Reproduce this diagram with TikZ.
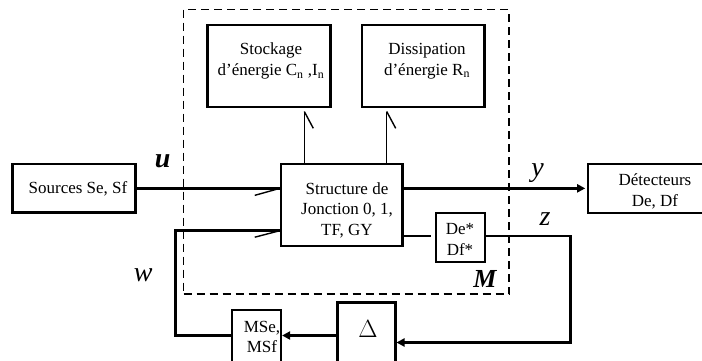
\documentclass[tikz,border=0pt]{standalone}
\usepackage{fontspec}
\setmainfont{Liberation Serif}
\usetikzlibrary{arrows.meta}
\begin{document}
\begin{tikzpicture}[x=1pt,y=-1pt,
  box/.style={draw,line width=2.5pt,inner sep=0pt},
  txt/.style={inner sep=0pt,align=center,font=\fontsize{17}{21}\selectfont},
  lbl/.style={inner sep=0pt,font=\fontsize{28}{28}\selectfont\itshape},
  conn/.style={line width=2.6pt},
  thinl/.style={line width=1pt},
  barb/.style={line width=1.4pt},
  tip/.style={-{Triangle[length=8pt,width=8pt]}}]
\useasboundingbox (0,0) rectangle (702,360);
% dashed model boundary
\node[draw,dashed,line width=1.2pt,dash pattern=on 8pt off 5pt,inner sep=0pt,minimum width=325.5pt,minimum height=284.7pt] (Mbox) at (346.25,151.65) {};
% boxes
\node[box,line width=2.7pt,minimum width=123pt,minimum height=82pt] (Stock) at (268.8,66) {};
\node[box,line width=2.7pt,minimum width=122.7pt,minimum height=82pt] (Diss) at (423.35,66) {};
\node[box,minimum width=123pt,minimum height=48.7pt] (Src) at (74.2,188.35) {};
\node[box,minimum width=121.3pt,minimum height=82pt] (Str) at (341.65,205) {};
\node[box,line width=2pt,minimum width=49pt,minimum height=49pt] (DD) at (460,237.2) {};
\node[box,line width=2.2pt,minimum width=116pt,minimum height=48.7pt] (Det) at (646.3,188.35) {};
\node[box,line width=2.4pt,minimum width=58pt,minimum height=60pt] (Del) at (366.3,332.3) {};
\node[box,line width=2.2pt,minimum width=49.3pt,minimum height=52pt] (MS) at (256.35,336) {};
% texts
\node[txt] (tStock) at (271,61) {Stockage\\d’énergie C\textsubscript{n} ,I\textsubscript{n}};
\node[txt] (tDiss) at (427,61) {Dissipation\\d’énergie R\textsubscript{n}};
\node[txt] (tSrc) at (78,189) {Sources Se, Sf};
\node[txt,font=\fontsize{17}{20.5}\selectfont] (tStr) at (347,210) {Structure de\\Jonction 0, 1,\\TF, GY};
\node[txt] (tDD) at (460,239) {De*\\Df*};
\node[txt] (tDet) at (655,191) {Détecteurs\\De, Df};
\node[txt,font=\fontsize{17}{20}\selectfont] (tMS) at (262,337) {MSe,\\MSf};
\node[txt,font=\fontsize{25}{25}\selectfont] (tDel) at (368,329) {$\Delta$};
% labels
\node[lbl,font=\fontsize{28}{28}\selectfont\bfseries\itshape] (lu) at (162.7,161.7) {u};
\node[lbl] (ly) at (537.5,173) {y};
\node[lbl] (lz) at (545,219) {z};
\node[lbl] (lw) at (143.3,275) {w};
\node[lbl,font=\fontsize{26}{26}\selectfont\bfseries\itshape] (lM) at (485,278.7) {M};
% coordinates
\coordinate (wc) at (175.7,230.7);
\coordinate (wb) at (175.7,335.5);
\coordinate (zc) at (570.7,236);
\coordinate (zb) at (570.7,342.5);
\coordinate (v1) at (304.3,111.5);
\coordinate (v2) at (386.7,111.5);
% u
\draw[conn] (Src.east) -- (Str.west |- Src.east) coordinate (uend);
\draw[barb] (uend) -- ++(-25,7);
% w
\draw[conn] (MS.west |- wb) -- (wb) -- (wc) -- (Str.west |- wc) coordinate (wend);
\draw[barb] (wend) -- ++(-25,6.5);
% y
\draw[conn,tip] (Str.east |- Src.east) -- ([xshift=-2pt]Det.west);
% structure to De*
\draw[conn] (Str.east |- zc) -- ([xshift=-4pt]DD.west |- zc);
% z loop
\draw[conn,tip] (DD.east |- zc) -- (zc) -- (zb) -- (Del.east |- zb);
% Delta to MSe
\draw[conn,tip] (Del.west |- wb) -- (MS.east |- wb);
% vertical bonds
\draw[thinl] (Str.north -| v1) -- (v1);
\draw[barb] (v1) -- ++(9,16.8);
\draw[thinl] (Str.north -| v2) -- (v2);
\draw[barb] (v2) -- ++(9,16.8);
\end{tikzpicture}
\end{document}
